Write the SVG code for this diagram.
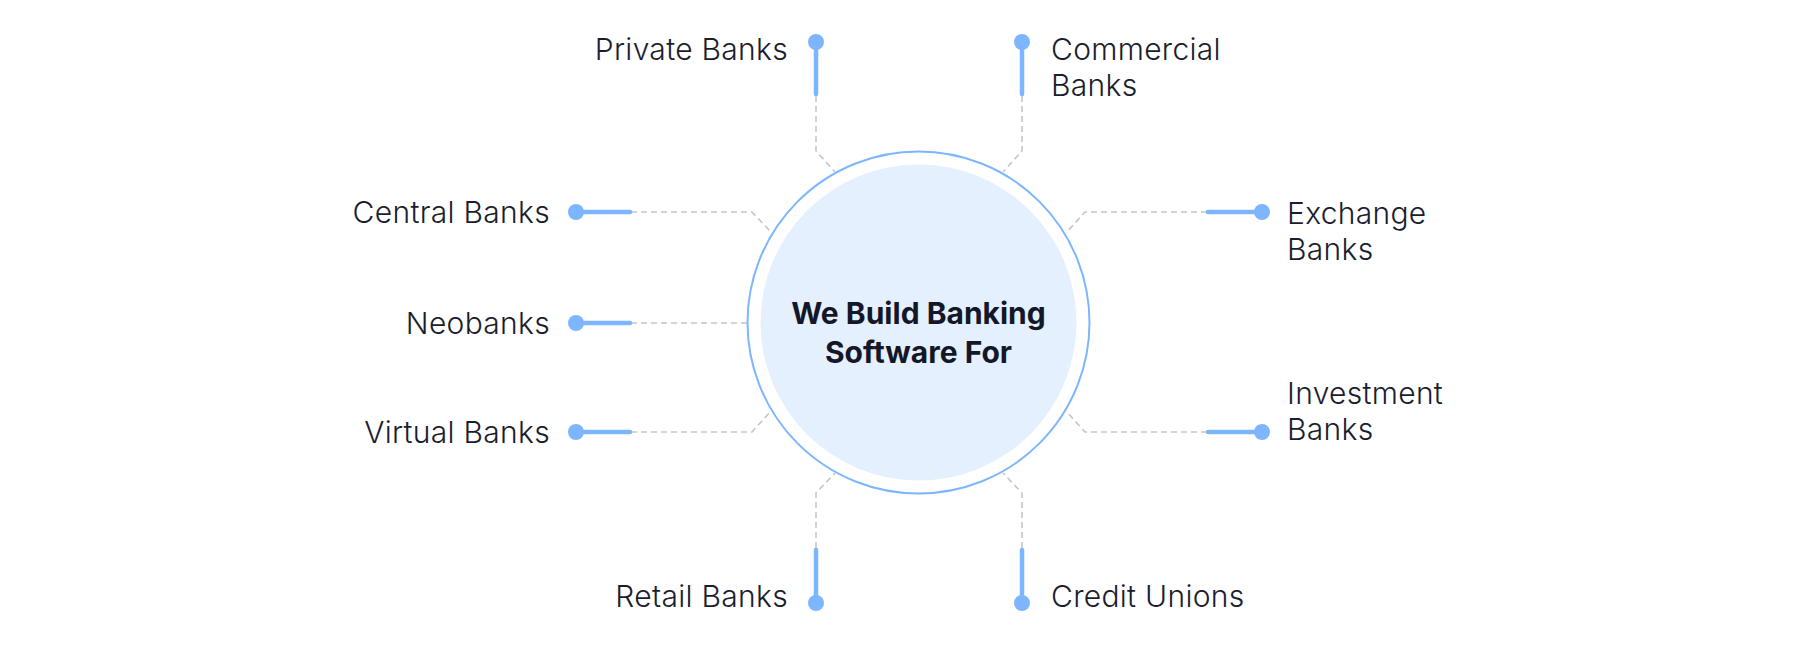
<svg xmlns="http://www.w3.org/2000/svg" width="1800" height="652" viewBox="0 0 1800 652">
<style>
.lbl{font-family:Inter,"Liberation Sans",sans-serif;font-size:30px;font-weight:300;fill:#1B1D2E;letter-spacing:0.3px}
.l{text-anchor:end}
.r{text-anchor:start}
.ttl{font-family:Inter,"Liberation Sans",sans-serif;font-size:30px;font-weight:700;fill:#141727;text-anchor:middle}
.dash{fill:none;stroke:#C6C6C6;stroke-width:1.6;stroke-dasharray:6 4}
.stem{stroke:#7DB6FF;stroke-width:4.5;stroke-linecap:round;fill:none}
.dot{fill:#7DB6FF}
</style>
<rect width="1800" height="652" fill="#FFFFFF"/>
<g id="connectors">
<polyline class="dash" points="816,96 816,151 835,172"/>
<polyline class="dash" points="1022,96 1022,151 1003,172"/>
<polyline class="dash" points="631,212 752,212 772,233"/>
<polyline class="dash" points="631,323 748,323"/>
<polyline class="dash" points="631,432 752,432 771,411"/>
<polyline class="dash" points="1207,212 1085,212 1066,233"/>
<polyline class="dash" points="1207,432 1085,432 1066,411"/>
<polyline class="dash" points="816,548 816,493 835,473"/>
<polyline class="dash" points="1022,548 1022,493 1003,473"/>
</g>
<g id="hub">
<circle cx="918.5" cy="322.5" r="171" fill="#FFFFFF" stroke="#7DB6FF" stroke-width="2"/>
<circle cx="918.5" cy="322.5" r="158" fill="#E4F0FD"/>
<text class="ttl" x="918.5" y="324">We Build Banking</text>
<text class="ttl" x="918.5" y="363">Software For</text>
</g>
<g id="private-banks">
<line class="stem" x1="816" y1="42" x2="816" y2="94"/>
<circle class="dot" cx="816" cy="42" r="8"/>
<text class="lbl l" x="788" y="60">Private Banks</text>
</g>
<g id="commercial-banks">
<line class="stem" x1="1022" y1="42" x2="1022" y2="94"/>
<circle class="dot" cx="1022" cy="42" r="8"/>
<text class="lbl r" x="1051" y="60">Commercial</text>
<text class="lbl r" x="1051" y="96">Banks</text>
</g>
<g id="central-banks">
<line class="stem" x1="576" y1="212" x2="630" y2="212"/>
<circle class="dot" cx="576" cy="212" r="8"/>
<text class="lbl l" x="550" y="223">Central Banks</text>
</g>
<g id="neobanks">
<line class="stem" x1="576" y1="323" x2="630" y2="323"/>
<circle class="dot" cx="576" cy="323" r="8"/>
<text class="lbl l" x="550" y="334">Neobanks</text>
</g>
<g id="virtual-banks">
<line class="stem" x1="576" y1="432" x2="630" y2="432"/>
<circle class="dot" cx="576" cy="432" r="8"/>
<text class="lbl l" x="550" y="443">Virtual Banks</text>
</g>
<g id="exchange-banks">
<line class="stem" x1="1208" y1="212" x2="1262" y2="212"/>
<circle class="dot" cx="1262" cy="212" r="8"/>
<text class="lbl r" x="1287" y="224">Exchange</text>
<text class="lbl r" x="1287" y="260">Banks</text>
</g>
<g id="investment-banks">
<line class="stem" x1="1208" y1="432" x2="1262" y2="432"/>
<circle class="dot" cx="1262" cy="432" r="8"/>
<text class="lbl r" x="1287" y="404">Investment</text>
<text class="lbl r" x="1287" y="440">Banks</text>
</g>
<g id="retail-banks">
<line class="stem" x1="816" y1="550" x2="816" y2="603"/>
<circle class="dot" cx="816" cy="603" r="8"/>
<text class="lbl l" x="788" y="607">Retail Banks</text>
</g>
<g id="credit-unions">
<line class="stem" x1="1022" y1="550" x2="1022" y2="603"/>
<circle class="dot" cx="1022" cy="603" r="8"/>
<text class="lbl r" x="1051" y="607">Credit Unions</text>
</g>
</svg>
